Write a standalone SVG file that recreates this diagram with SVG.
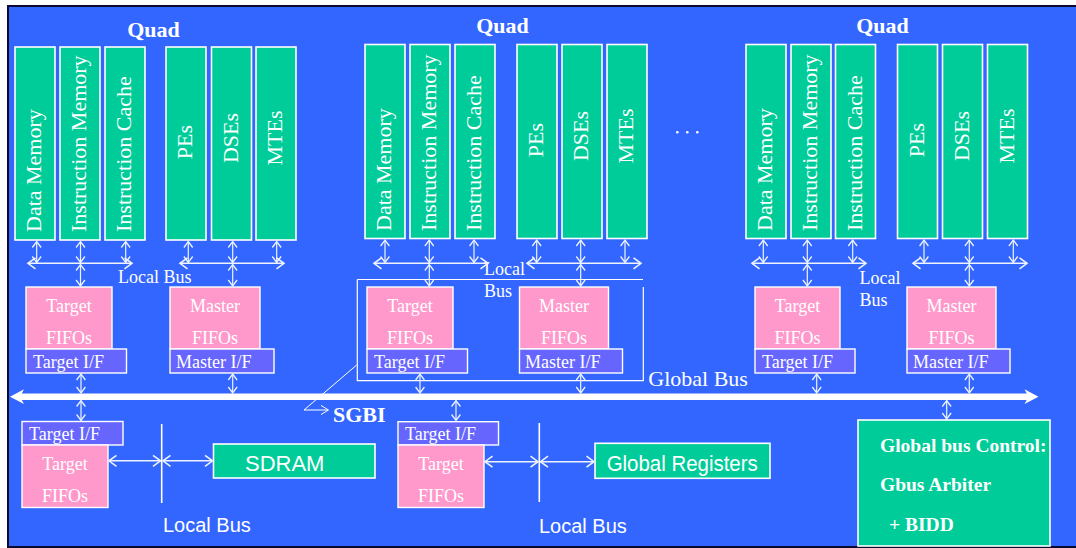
<svg xmlns="http://www.w3.org/2000/svg" width="1076" height="548" viewBox="0 0 1076 548">
  <style>
    .bg { fill: #3366ff; stroke: #0a0a30; stroke-width: 2; }
    .unit { fill: #00cc99; stroke: #ffffff; stroke-width: 1.6; }
    .fifo { fill: #ff99cc; stroke: #ffffff; stroke-width: 1.4; }
    .ifc { fill: #6666ff; stroke: #ffffff; stroke-width: 1.4; }
    .frame { fill: none; stroke: #ffffff; stroke-width: 1.2; }
    .t { font-family: "Liberation Serif", "Times New Roman", serif; fill: #ffffff; }
    .rot { font-size: 22px; }
    .box { font-size: 18px; }
    .quad { font-size: 22px; font-weight: bold; }
    .bold { font-weight: bold; }
    .s { font-family: "Liberation Sans", Arial, sans-serif; fill: #ffffff; }
    .link { stroke: #eef3ff; stroke-width: 1.2; fill: none; marker-start: url(#chev); marker-end: url(#chev); }
    .bus { stroke: #eef3ff; stroke-width: 1.6; fill: none; marker-start: url(#chev2); marker-end: url(#chev2); }
    .rail { stroke: #ffffff; stroke-width: 1.6; fill: none; }
  </style>
  <defs>
    <marker id="chev" markerUnits="userSpaceOnUse" markerWidth="10" markerHeight="10" refX="7" refY="5" orient="auto-start-reverse" overflow="visible">
      <path d="M1,0.6 L7,5 L1,9.4" fill="none" stroke="#eef3ff" stroke-width="1.3"/>
    </marker>
    <marker id="chev2" markerUnits="userSpaceOnUse" markerWidth="10" markerHeight="12" refX="8" refY="6" orient="auto-start-reverse" overflow="visible">
      <path d="M0.5,0.5 L8,6 L0.5,11.5" fill="none" stroke="#eef3ff" stroke-width="1.6"/>
    </marker>
  </defs>

  <rect x="0" y="0" width="1076" height="548" fill="#ffffff"/>
  <rect class="bg" x="8" y="6" width="1070" height="541"/>

  <!-- Quad 1 -->
  <g id="quad1">
    <text class="t quad" x="153.5" y="37" text-anchor="middle">Quad</text>
    <g id="q1-dmem"><rect class="unit" x="15" y="47" width="40" height="193"/><text class="t rot" transform="translate(41,232) rotate(-90)">Data Memory</text></g>
    <g id="q1-imem"><rect class="unit" x="60" y="47" width="40" height="193"/><text class="t rot" transform="translate(86,232) rotate(-90)">Instruction Memory</text></g>
    <g id="q1-icache"><rect class="unit" x="105" y="47" width="40" height="193"/><text class="t rot" transform="translate(131,232) rotate(-90)">Instruction Cache</text></g>
    <g id="q1-pes"><rect class="unit" x="166" y="47" width="40" height="193"/><text class="t rot" text-anchor="middle" transform="translate(192,142) rotate(-90)">PEs</text></g>
    <g id="q1-dses"><rect class="unit" x="211.5" y="47" width="40" height="193"/><text class="t rot" text-anchor="middle" transform="translate(237.5,138) rotate(-90)">DSEs</text></g>
    <g id="q1-mtes"><rect class="unit" x="256" y="47" width="40" height="193"/><text class="t rot" text-anchor="middle" transform="translate(282,138) rotate(-90)">MTEs</text></g>
    <text class="t box" x="118" y="283">Local Bus</text>
    <g id="q1-tfifo"><rect class="fifo" x="26" y="287" width="86" height="62"/><text class="t box" x="69" y="311.5" text-anchor="middle">Target</text><text class="t box" x="69" y="344" text-anchor="middle">FIFOs</text></g>
    <g id="q1-tif"><rect class="ifc" x="26" y="349" width="100.5" height="24"/><text class="t box" x="33" y="367.5">Target I/F</text></g>
    <g id="q1-mfifo"><rect class="fifo" x="170" y="287" width="90" height="62"/><text class="t box" x="215" y="311.5" text-anchor="middle">Master</text><text class="t box" x="215" y="344" text-anchor="middle">FIFOs</text></g>
    <g id="q1-mif"><rect class="ifc" x="170" y="349" width="104" height="24"/><text class="t box" x="176" y="367.5">Master I/F</text></g>
  </g>

  <!-- Quad 2 -->
  <g id="quad2">
    <text class="t quad" x="502.5" y="33" text-anchor="middle">Quad</text>
    <g id="q2-dmem"><rect class="unit" x="365" y="44.5" width="40" height="194"/><text class="t rot" transform="translate(391,231) rotate(-90)">Data Memory</text></g>
    <g id="q2-imem"><rect class="unit" x="410" y="44.5" width="40" height="194"/><text class="t rot" transform="translate(436,231) rotate(-90)">Instruction Memory</text></g>
    <g id="q2-icache"><rect class="unit" x="455" y="44.5" width="40" height="194"/><text class="t rot" transform="translate(481,231) rotate(-90)">Instruction Cache</text></g>
    <g id="q2-pes"><rect class="unit" x="517" y="44.5" width="40" height="194"/><text class="t rot" text-anchor="middle" transform="translate(543,140) rotate(-90)">PEs</text></g>
    <g id="q2-dses"><rect class="unit" x="562" y="44.5" width="40" height="194"/><text class="t rot" text-anchor="middle" transform="translate(588,136) rotate(-90)">DSEs</text></g>
    <g id="q2-mtes"><rect class="unit" x="607" y="44.5" width="40" height="194"/><text class="t rot" text-anchor="middle" transform="translate(633,136) rotate(-90)">MTEs</text></g>
    <text class="t box" x="484" y="275">Local</text>
    <text class="t box" x="484" y="297">Bus</text>
    <g id="sgbi-frame"><path class="frame" d="M357.3,279.5 H643 M643.3,287 V380.7 H357.3 V279.5"/></g>
    <g id="q2-tfifo"><rect class="fifo" x="367" y="287" width="86" height="62"/><text class="t box" x="410" y="311.5" text-anchor="middle">Target</text><text class="t box" x="410" y="344" text-anchor="middle">FIFOs</text></g>
    <g id="q2-tif"><rect class="ifc" x="367" y="349" width="100.5" height="24"/><text class="t box" x="374" y="367.5">Target I/F</text></g>
    <g id="q2-mfifo"><rect class="fifo" x="519.5" y="287" width="89" height="62"/><text class="t box" x="564" y="311.5" text-anchor="middle">Master</text><text class="t box" x="564" y="344" text-anchor="middle">FIFOs</text></g>
    <g id="q2-mif"><rect class="ifc" x="519.5" y="349" width="103" height="24"/><text class="t box" x="525" y="367.5">Master I/F</text></g>
  </g>

  <!-- ellipsis between quads -->
  <g id="more" fill="#ffffff">
    <circle cx="677.3" cy="132.3" r="1.3"/>
    <circle cx="687.3" cy="132.3" r="1.3"/>
    <circle cx="697.3" cy="132.3" r="1.3"/>
  </g>

  <!-- Quad 3 -->
  <g id="quad3">
    <text class="t quad" x="882.5" y="33" text-anchor="middle">Quad</text>
    <g id="q3-dmem"><rect class="unit" x="746" y="44.5" width="40" height="194"/><text class="t rot" transform="translate(772,231) rotate(-90)">Data Memory</text></g>
    <g id="q3-imem"><rect class="unit" x="791" y="44.5" width="40" height="194"/><text class="t rot" transform="translate(817,231) rotate(-90)">Instruction Memory</text></g>
    <g id="q3-icache"><rect class="unit" x="835.5" y="44.5" width="40" height="194"/><text class="t rot" transform="translate(861.5,231) rotate(-90)">Instruction Cache</text></g>
    <g id="q3-pes"><rect class="unit" x="897.5" y="44.5" width="40" height="194"/><text class="t rot" text-anchor="middle" transform="translate(923.5,140) rotate(-90)">PEs</text></g>
    <g id="q3-dses"><rect class="unit" x="942.5" y="44.5" width="40" height="194"/><text class="t rot" text-anchor="middle" transform="translate(968.5,136) rotate(-90)">DSEs</text></g>
    <g id="q3-mtes"><rect class="unit" x="987.5" y="44.5" width="40" height="194"/><text class="t rot" text-anchor="middle" transform="translate(1013.5,136) rotate(-90)">MTEs</text></g>
    <text class="t box" x="859.5" y="284">Local</text>
    <text class="t box" x="859.5" y="306">Bus</text>
    <g id="q3-tfifo"><rect class="fifo" x="755" y="287" width="85" height="62"/><text class="t box" x="797.5" y="311.5" text-anchor="middle">Target</text><text class="t box" x="797.5" y="344" text-anchor="middle">FIFOs</text></g>
    <g id="q3-tif"><rect class="ifc" x="755" y="349" width="100" height="24"/><text class="t box" x="762" y="367.5">Target I/F</text></g>
    <g id="q3-mfifo"><rect class="fifo" x="907" y="287" width="89" height="62"/><text class="t box" x="951.5" y="311.5" text-anchor="middle">Master</text><text class="t box" x="951.5" y="344" text-anchor="middle">FIFOs</text></g>
    <g id="q3-mif"><rect class="ifc" x="907" y="349" width="103" height="24"/><text class="t box" x="913" y="367.5">Master I/F</text></g>
  </g>

  <!-- Global bus -->
  <g id="global-bus">
    <rect x="18" y="393.5" width="1012" height="6.5" fill="#ffffff"/>
    <polygon points="10,396.7 24,389.3 20,396.7 24,404" fill="#ffffff"/>
    <polygon points="1038.5,396.7 1024.5,389.3 1028.5,396.7 1024.5,404" fill="#ffffff"/>
    <text class="t" x="648.3" y="386" font-size="22">Global Bus</text>
  </g>

  <!-- SGBI callout -->
  <g id="sgbi">
    <path d="M356.7,365 L304,410 H328" fill="none" stroke="#ffffff" stroke-width="1"/>
    <path d="M321,405.5 L328.5,410 L321,414.5" fill="none" stroke="#ffffff" stroke-width="1"/>
    <text class="t bold" x="333" y="421.5" font-size="22">SGBI</text>
  </g>

  <!-- SDRAM side -->
  <g id="sdram-port">
    <g id="b1-tif"><rect class="ifc" x="22" y="421.5" width="101" height="23.5"/><text class="t box" x="29" y="440">Target I/F</text></g>
    <g id="b1-tfifo"><rect class="fifo" x="22" y="445" width="86" height="62.5"/><text class="t box" x="65" y="469.5" text-anchor="middle">Target</text><text class="t box" x="65" y="502" text-anchor="middle">FIFOs</text></g>
  </g>
  <g id="sdram"><rect class="unit" x="213.5" y="444" width="161.5" height="34"/><text class="s" x="245" y="470.7" font-size="22">SDRAM</text></g>
  <text class="s" x="163" y="531.5" font-size="20">Local Bus</text>

  <!-- Global registers side -->
  <g id="greg-port">
    <g id="b2-tif"><rect class="ifc" x="398" y="421.7" width="100.5" height="23.3"/><text class="t box" x="405" y="440">Target I/F</text></g>
    <g id="b2-tfifo"><rect class="fifo" x="398" y="445" width="86" height="62.5"/><text class="t box" x="441" y="469.5" text-anchor="middle">Target</text><text class="t box" x="441" y="502" text-anchor="middle">FIFOs</text></g>
  </g>
  <g id="global-registers"><rect class="unit" x="595" y="443.3" width="175" height="35"/><text class="s" x="606.7" y="470.7" font-size="22" textLength="151" lengthAdjust="spacingAndGlyphs">Global Registers</text></g>
  <text class="s" x="539" y="532.7" font-size="20">Local Bus</text>

  <!-- Global bus controller -->
  <g id="gbus-control">
    <rect class="unit" x="858" y="420" width="192" height="126"/>
    <text class="t bold" x="880" y="452" font-size="19.5">Global bus Control:</text>
    <text class="t bold" x="880" y="490.7" font-size="19.5">Gbus Arbiter</text>
    <text class="t bold" x="889" y="531" font-size="19.5">+ BIDD</text>
  </g>

  <!-- Connectors -->
  <g id="connectors">
    <!-- quad 1: units to local bus -->
    <line class="link" x1="36.7" y1="241.5" x2="36.7" y2="262.5"/>
    <line class="link" x1="80.5" y1="241.5" x2="80.5" y2="262.5"/>
    <line class="link" x1="125.7" y1="241.5" x2="125.7" y2="262.5"/>
    <line class="link" x1="188.3" y1="241.5" x2="188.3" y2="262.5"/>
    <line class="link" x1="232.7" y1="241.5" x2="232.7" y2="262.5"/>
    <line class="link" x1="276.7" y1="241.5" x2="276.7" y2="262.5"/>
    <line class="bus" x1="28" y1="263.3" x2="132" y2="263.3"/>
    <line class="bus" x1="180" y1="263.3" x2="284" y2="263.3"/>
    <line class="link" x1="80.5" y1="264.5" x2="80.5" y2="286"/>
    <line class="link" x1="232.7" y1="264.5" x2="232.7" y2="286"/>
    <line class="link" x1="81" y1="374" x2="81" y2="393"/>
    <line class="link" x1="232.7" y1="374" x2="232.7" y2="393"/>

    <!-- quad 2 -->
    <line class="link" x1="385" y1="240" x2="385" y2="262.5"/>
    <line class="link" x1="429.3" y1="240" x2="429.3" y2="262.5"/>
    <line class="link" x1="474" y1="240" x2="474" y2="262.5"/>
    <line class="link" x1="536.7" y1="240" x2="536.7" y2="262.5"/>
    <line class="link" x1="580.7" y1="240" x2="580.7" y2="262.5"/>
    <line class="link" x1="625" y1="240" x2="625" y2="262.5"/>
    <line class="bus" x1="374" y1="263.3" x2="488" y2="263.3"/>
    <line class="bus" x1="527" y1="263.3" x2="641" y2="263.3"/>
    <line class="link" x1="429.3" y1="264.5" x2="429.3" y2="286"/>
    <line class="link" x1="580.7" y1="264.5" x2="580.7" y2="286"/>
    <line class="link" x1="420" y1="374" x2="420" y2="393"/>
    <line class="link" x1="580.7" y1="374" x2="580.7" y2="393"/>

    <!-- quad 3 -->
    <line class="link" x1="763.3" y1="240" x2="763.3" y2="262.5"/>
    <line class="link" x1="807.3" y1="240" x2="807.3" y2="262.5"/>
    <line class="link" x1="852.7" y1="240" x2="852.7" y2="262.5"/>
    <line class="link" x1="924" y1="240" x2="924" y2="262.5"/>
    <line class="link" x1="969.3" y1="240" x2="969.3" y2="262.5"/>
    <line class="link" x1="1013.3" y1="240" x2="1013.3" y2="262.5"/>
    <line class="bus" x1="752" y1="263.3" x2="866" y2="263.3"/>
    <line class="bus" x1="913" y1="263.3" x2="1027" y2="263.3"/>
    <line class="link" x1="807.3" y1="264.5" x2="807.3" y2="286"/>
    <line class="link" x1="969.3" y1="264.5" x2="969.3" y2="286"/>
    <line class="link" x1="816.7" y1="374" x2="816.7" y2="393"/>
    <line class="link" x1="969.3" y1="374" x2="969.3" y2="393"/>

    <!-- global bus to lower ports -->
    <line class="link" x1="81" y1="400.5" x2="81" y2="420.5"/>
    <line class="link" x1="456" y1="400.5" x2="456" y2="420.5"/>
    <line class="link" x1="946.7" y1="400.5" x2="946.7" y2="419"/>

    <!-- SDRAM local bus -->
    <line class="rail" x1="161.7" y1="424" x2="161.7" y2="503"/>
    <line class="bus" x1="109" y1="460.8" x2="160.5" y2="460.8"/>
    <line class="bus" x1="163" y1="460.8" x2="212.5" y2="460.8"/>

    <!-- Global registers local bus -->
    <line class="rail" x1="539.3" y1="423" x2="539.3" y2="502"/>
    <line class="bus" x1="485" y1="461.7" x2="538" y2="461.7"/>
    <line class="bus" x1="540.5" y1="461.7" x2="594" y2="461.7"/>
  </g>
</svg>
